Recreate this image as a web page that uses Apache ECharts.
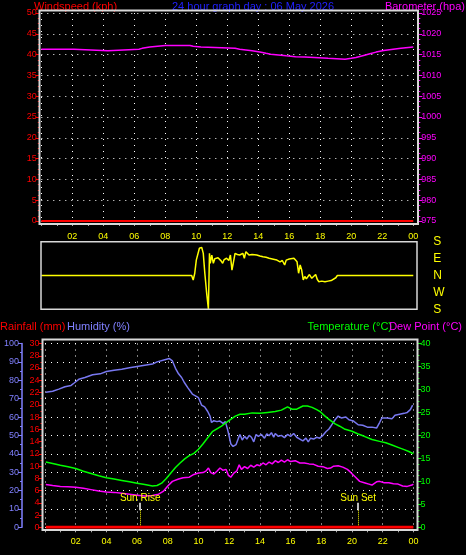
<!DOCTYPE html>
<html>
<head>
<meta charset="utf-8">
<script src="https://cdn.jsdelivr.net/npm/echarts@6/dist/echarts.min.js"></script>
<style>
html,body{margin:0;padding:0;background:#000;}
#c{width:466px;height:555px;}
</style>
</head>
<body>
<div id="c"></div>
<script>
// ---- data ----
const windspeed = [[0,0],[24,0]];
const barometer = [[0,1016.3],[2.1,1016.3],[2.2,1015.9],[4.3,1015.9],[4.4,1016.3],[6.3,1016.3],[6.5,1016.5],[7.0,1016.8],[7.5,1017.0],[8.0,1017.2],[9.6,1017.2],[9.8,1017.0],[10.3,1016.8],[11.2,1016.7],[12.5,1016.5],[12.8,1016.3],[13.2,1016.1],[13.6,1015.9],[14.1,1015.6],[14.5,1015.3],[14.8,1015.1],[15.3,1014.9],[15.8,1014.7],[16.4,1014.5],[17.0,1014.4],[17.6,1014.3],[18.5,1014.1],[19.6,1013.9],[20.0,1014.1],[20.3,1014.3],[20.8,1014.8],[21.2,1015.2],[21.6,1015.6],[22.1,1016.0],[22.7,1016.3],[23.2,1016.5],[24.0,1016.8]];
const windDir = [[0,0],[9.7,0],[9.8,-24],[9.9,12],[10.0,82],[10.2,145],[10.35,150],[10.45,118],[10.55,12],[10.67,-95],[10.78,-178],[10.82,-178],[10.85,118],[10.9,65],[11.0,109],[11.1,65],[11.2,90],[11.3,82],[11.4,95],[11.5,100],[11.6,78],[11.7,65],[11.8,85],[11.95,92],[12.1,80],[12.2,109],[12.3,29],[12.4,73],[12.5,118],[12.65,112],[12.8,109],[13.0,118],[13.1,92],[13.2,127],[13.3,118],[13.4,109],[13.6,112],[13.9,109],[14.1,104],[14.3,100],[14.5,97],[14.7,92],[14.9,88],[15.2,82],[15.4,73],[15.55,80],[15.7,56],[15.8,82],[16.0,88],[16.3,92],[16.5,73],[16.6,12],[16.7,56],[16.8,29],[16.9,-24],[17.0,-5],[17.1,-18],[17.3,5],[17.45,-15],[17.55,-8],[17.7,5],[17.8,-20],[17.9,-33],[18.1,-30],[18.3,-33],[18.5,-30],[18.7,-27],[18.8,-24],[19.0,-12],[19.1,0],[24,0]];
const dirLabels = {'180':'S','90':'E','0':'N','-90':'W','-180':'S'};
const rainfall = [[0.05,0],[24,0]];
const humidity = [[0.05,73.5],[0.5,74.0],[0.9,75.2],[1.3,76.5],[1.7,77.2],[1.9,78.5],[2.2,80.5],[2.6,81.5],[3.1,83.0],[3.6,83.5],[4.0,84.8],[4.5,85.5],[5.0,86.0],[5.5,86.8],[6.0,87.5],[6.6,88.3],[7.0,88.8],[7.3,90.0],[7.8,91.2],[8.1,91.8],[8.3,90.5],[8.5,86.5],[8.7,83.5],[8.9,81.5],[9.1,78.5],[9.3,76.0],[9.6,72.5],[9.8,71.5],[10.0,70.5],[10.2,66.5],[10.4,65.5],[10.6,63.0],[10.75,60.5],[10.85,57.0],[11.0,58.0],[11.2,57.5],[11.4,57.8],[11.6,56.5],[11.75,57.5],[11.9,53.0],[12.0,49.5],[12.1,45.5],[12.25,44.0],[12.45,45.0],[12.6,48.5],[12.7,50.5],[12.85,47.5],[13.0,49.5],[13.15,48.0],[13.3,50.0],[13.45,49.0],[13.6,46.5],[13.75,50.5],[13.9,49.5],[14.1,50.5],[14.3,48.5],[14.45,50.8],[14.6,49.8],[14.75,51.5],[14.9,49.0],[15.0,51.0],[15.2,49.5],[15.4,50.0],[15.6,48.8],[15.8,50.5],[16.0,49.5],[16.2,51.0],[16.4,49.0],[16.6,48.0],[16.8,47.0],[17.0,48.5],[17.15,46.5],[17.3,48.5],[17.5,48.0],[17.7,49.0],[17.9,48.5],[18.1,50.0],[18.3,52.0],[18.5,53.5],[18.7,56.0],[18.9,58.5],[19.1,60.5],[19.3,59.5],[19.6,60.0],[19.8,58.5],[20.1,57.8],[20.4,55.8],[20.7,55.5],[21.0,54.5],[21.3,54.5],[21.6,54.0],[21.8,57.0],[21.95,59.5],[22.3,59.5],[22.6,59.0],[22.8,61.0],[23.1,61.5],[23.4,62.0],[23.6,62.5],[23.8,64.0],[23.95,66.5]];
const temperature = [[0.05,14.2],[0.5,13.9],[1.0,13.5],[1.5,13.2],[2.0,12.8],[2.5,12.2],[3.0,11.7],[3.5,11.2],[4.0,10.8],[4.5,10.5],[5.0,10.2],[5.5,9.9],[6.0,9.6],[6.5,9.3],[7.0,9.0],[7.3,9.1],[7.6,9.6],[7.9,10.6],[8.2,11.8],[8.5,13.0],[8.8,14.0],[9.1,14.9],[9.4,15.6],[9.7,16.1],[10.0,17.0],[10.3,18.2],[10.6,19.5],[10.9,20.8],[11.2,21.4],[11.5,22.0],[11.8,22.8],[12.05,23.4],[12.4,24.2],[12.7,24.6],[13.0,24.6],[13.5,24.9],[14.0,24.8],[14.5,25.0],[15.0,25.2],[15.4,25.5],[15.8,26.2],[16.1,25.7],[16.4,25.7],[16.8,26.4],[17.1,26.4],[17.4,26.1],[17.7,25.6],[17.95,25.1],[18.2,24.3],[18.5,23.5],[18.9,22.5],[19.2,22.0],[19.5,21.4],[20.0,20.9],[20.4,20.3],[20.8,19.8],[21.3,19.1],[21.8,18.7],[22.2,18.4],[22.6,17.9],[23.0,17.4],[23.4,16.9],[23.7,16.5],[24.0,16.0]];
const dewPoint = [[0.05,9.3],[0.5,9.1],[1.0,8.9],[1.5,8.8],[2.0,8.7],[2.5,8.5],[3.0,8.2],[3.5,7.9],[4.0,7.7],[4.5,7.6],[5.0,7.4],[5.5,7.2],[6.0,7.0],[6.5,6.8],[7.0,6.9],[7.4,7.2],[7.7,7.8],[8.0,9.0],[8.3,10.0],[8.7,10.5],[9.0,10.8],[9.4,10.9],[9.7,11.5],[10.0,11.8],[10.3,11.9],[10.5,12.3],[10.65,12.9],[10.8,11.9],[11.0,11.6],[11.2,12.2],[11.4,12.9],[11.6,12.4],[11.8,12.6],[11.95,11.3],[12.1,10.9],[12.3,11.8],[12.5,12.3],[12.65,13.6],[12.8,12.6],[13.0,13.2],[13.2,12.8],[13.4,13.5],[13.6,13.1],[13.8,13.6],[14.0,13.4],[14.2,14.0],[14.4,13.6],[14.6,14.2],[14.8,13.8],[15.0,14.5],[15.2,14.1],[15.4,14.6],[15.6,14.2],[15.8,14.7],[16.0,14.3],[16.3,14.5],[16.6,14.0],[16.9,14.0],[17.2,13.8],[17.5,13.7],[17.8,13.3],[18.1,13.2],[18.4,12.8],[18.6,12.9],[18.8,13.3],[19.1,13.4],[19.4,13.1],[19.7,12.6],[19.9,12.0],[20.2,11.0],[20.5,10.0],[20.8,9.7],[21.1,9.4],[21.3,9.2],[21.6,9.9],[21.8,10.0],[22.1,9.7],[22.4,9.7],[22.7,9.5],[23.0,9.4],[23.3,9.0],[23.6,8.9],[23.9,9.2],[24.0,9.4]];
const sunEvents = [{name:'Sun Rise', hour:6.2}, {name:'Sun Set', hour:20.4}];

// ---- chart ----
const FONT = 'Liberation Sans';
const RED = '#ff0000', MAG = '#ff00ff', GRN = '#00ff00', HUM = '#8080ff', YEL = '#ffff00', FRAME = '#d8d8d8';
const hh = v => { if (v === 0) return ''; const h = v % 24; return (h < 10 ? '0' : '') + h; };
const plain = v => String(v);
const dotted = {show:true, lineStyle:{color:'#ffffff', width:1, type:[1,5]}};

const chart = echarts.init(document.getElementById('c'), null, {renderer:'canvas'});
const ttl = (text, pos, color) => Object.assign({text, padding:0, textStyle:{color, fontSize:11, fontWeight:'normal', fontFamily:FONT}}, pos);

function xAx(grid, offset, margin) {
  return {type:'value', gridIndex:grid, min:0, max:24, interval:2, position:'bottom', offset:offset,
    axisLine:{show:false, onZero:false},
    axisTick:{show:true, length:2, lineStyle:{color:'#aaaaaa'}},
    minorTick:{show:true, splitNumber:2, length:2, lineStyle:{color:'#aaaaaa'}},
    axisLabel:{color:YEL, fontSize:9, fontFamily:FONT, margin:margin, formatter:hh},
    splitLine:dotted};
}
function yAx(grid, pos, offset, min, max, interval, color, minorSplit, extra) {
  return Object.assign({type:'value', gridIndex:grid, position:pos, offset:offset, min, max, interval,
    axisLine:{show:false, onZero:false},
    axisTick:{show:true, length:4, lineStyle:{color, width:1}},
    minorTick:{show:true, splitNumber:minorSplit, length:2, lineStyle:{color, width:1}},
    axisLabel:{color, fontSize:9, fontFamily:FONT, margin:3, formatter:plain},
    splitLine:{show:false}}, extra || {});
}

const option = {
  backgroundColor:'#000000',
  animation:false,
  title:[
    ttl('Windspeed (kph)', {left:34, top:1}, RED),
    ttl('24 hour graph day : 06 May 2026', {left:172, top:1}, '#2020ff'),
    ttl('Barometer (hpa)', {right:1, top:1}, MAG),
    ttl('Rainfall (mm)', {left:0, top:321}, RED),
    ttl('Humidity (%)', {left:67, top:321}, HUM),
    ttl('Temperature (°C)', {right:74, top:321}, GRN),
    ttl('Dew Point (°C)', {right:4, top:321}, MAG)
  ],
  grid:[
    {left:41.3, top:13, width:372, height:208},
    {left:41.3, top:241.7, width:372, height:67.6},
    {left:45, top:343.5, width:368.4, height:183.8}
  ],
  xAxis:[
    xAx(0, 3, 8),
    {type:'value', gridIndex:1, min:0, max:24, show:false},
    xAx(2, 3, 7)
  ],
  yAxis:[
    yAx(0, 'left', 1.5, 0, 50, 5, RED, 4, {splitLine:dotted}),
    yAx(0, 'right', 5, 975, 1025, 5, MAG, 4),
    {type:'value', gridIndex:1, position:'right', min:-180, max:180, interval:90,
      axisLine:{show:false}, axisTick:{show:false}, splitLine:{show:false},
      axisLabel:{color:YEL, fontSize:12, fontFamily:FONT, margin:20, formatter:v => dirLabels[String(v)] || ''}},
    yAx(2, 'left', 23, 0, 100, 10, HUM, 2, {axisLine:{show:true, onZero:false, lineStyle:{color:HUM, width:1.5}}, splitLine:dotted}),
    yAx(2, 'left', 2.5, 0, 30, 2, RED, 2),
    yAx(2, 'right', 4, 0, 40, 5, GRN, 4)
  ],
  series:[
    {type:'line', name:'Windspeed', xAxisIndex:0, yAxisIndex:0, data:windspeed, showSymbol:false, lineStyle:{color:RED, width:2}},
    {type:'line', name:'Barometer', xAxisIndex:0, yAxisIndex:1, data:barometer, showSymbol:false, lineStyle:{color:MAG, width:1.5}},
    {type:'line', name:'Wind direction', xAxisIndex:1, yAxisIndex:2, data:windDir, showSymbol:false, lineStyle:{color:YEL, width:1.5}},
    {type:'line', name:'Rainfall', xAxisIndex:2, yAxisIndex:4, data:rainfall, showSymbol:false, lineStyle:{color:RED, width:3}, z:5,
      markLine:{symbol:'none', silent:true, animation:false, data:[].concat(
        ...sunEvents.map(e => [
          [{coord:[e.hour,0], lineStyle:{color:YEL, type:[1,1], width:1}, label:{show:false}}, {coord:[e.hour,2.8]}],
          [{coord:[e.hour,2.8], lineStyle:{color:'#ffffff', type:'solid', width:1.5}, label:{show:true, position:'end', distance:0, formatter:e.name, color:YEL, fontSize:10, fontFamily:FONT}}, {coord:[e.hour,4.0]}]
        ]))}},
    {type:'line', name:'Humidity', xAxisIndex:2, yAxisIndex:3, data:humidity, showSymbol:false, lineStyle:{color:'#7878f0', width:1.5}},
    {type:'line', name:'Temperature', xAxisIndex:2, yAxisIndex:5, data:temperature, showSymbol:false, lineStyle:{color:GRN, width:1.5}},
    {type:'line', name:'Dew Point', xAxisIndex:2, yAxisIndex:5, data:dewPoint, showSymbol:false, lineStyle:{color:MAG, width:1.5}}
  ],
  graphic:[
    {type:'rect', z:100, shape:{x:39.5, y:10.5, width:378.5, height:213.5}, style:{fill:null, stroke:FRAME, lineWidth:2}},
    {type:'rect', z:100, shape:{x:41, y:241.7, width:376, height:67.6}, style:{fill:null, stroke:FRAME, lineWidth:1.5}},
    {type:'rect', z:100, shape:{x:42.5, y:339.5, width:375, height:190.5}, style:{fill:null, stroke:FRAME, lineWidth:2}}
  ]
};
chart.setOption(option);
</script>
</body>
</html>
